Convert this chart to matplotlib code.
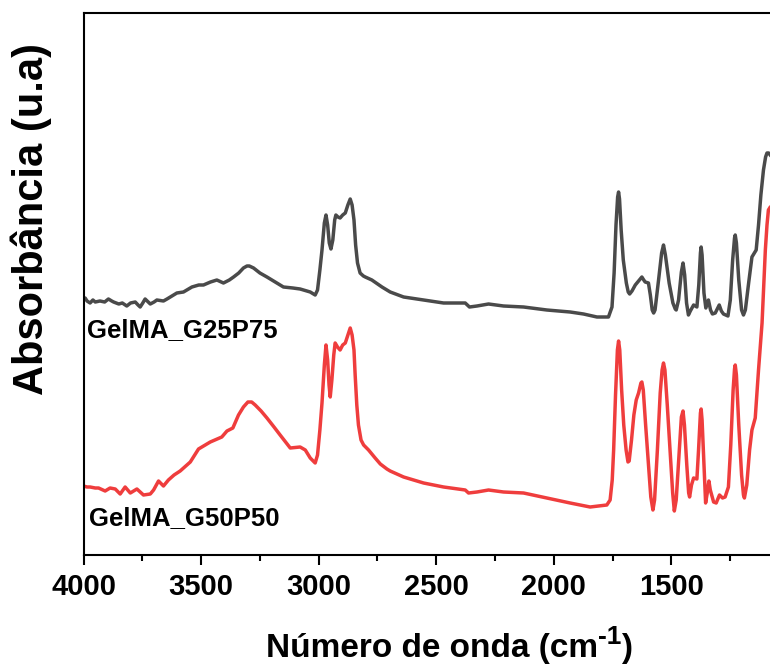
import matplotlib
matplotlib.use("Agg")
import matplotlib.pyplot as plt

# FTIR spectra (wavenumber in cm-1, absorbance in arbitrary units)
wn_g25p75 = [3993, 3985, 3972, 3960, 3950, 3930, 3910, 3894, 3880, 3872, 3850, 3835, 3816,
             3800, 3780, 3768, 3759, 3748, 3738, 3716, 3700, 3688, 3660, 3645,
             3603, 3575, 3539, 3510, 3490, 3460, 3433, 3405, 3380, 3362, 3340, 3320, 3305,
             3295, 3277, 3250, 3220, 3185, 3150, 3110, 3079, 3050,
             3036, 3015, 3005, 2995, 2986, 2976, 2969, 2962, 2955, 2948, 2940, 2932, 2927,
             2918, 2909, 2898, 2887, 2876, 2866, 2858, 2850, 2843, 2835, 2824, 2810, 2802,
             2774, 2731, 2696, 2639, 2554, 2469, 2377, 2359, 2327, 2278,
             2214, 2129, 2030, 1931, 1874, 1817, 1768, 1753, 1744, 1736, 1729, 1725, 1721,
             1714, 1705, 1692, 1684, 1678, 1668, 1654, 1640, 1626, 1618, 1612, 1598, 1590,
             1582, 1576, 1570, 1555, 1542, 1534, 1526, 1510, 1494, 1484, 1480, 1470, 1458,
             1451, 1444, 1436, 1428, 1420, 1406, 1392, 1384, 1377, 1374, 1370, 1362, 1354,
             1343, 1334, 1326, 1314, 1297, 1288, 1279, 1260, 1250, 1240, 1232, 1229, 1224,
             1214, 1202, 1194, 1186, 1172, 1158, 1140, 1130, 1120, 1109, 1100, 1094, 1087,
             1080, 1065]
ab_g25p75 = [2.57, 2.54, 2.52, 2.55, 2.53, 2.54, 2.53, 2.56, 2.54, 2.53, 2.51, 2.52, 2.49,
             2.52, 2.53, 2.50, 2.48, 2.52, 2.56, 2.51, 2.53, 2.55, 2.54, 2.56,
             2.62, 2.63, 2.68, 2.70, 2.70, 2.73, 2.75, 2.72, 2.75, 2.78, 2.82, 2.87, 2.89,
             2.89, 2.87, 2.82, 2.78, 2.73, 2.68, 2.67, 2.66, 2.64,
             2.63, 2.60, 2.65, 2.85, 3.05, 3.32, 3.40, 3.30, 3.12, 3.06, 3.15, 3.35, 3.40,
             3.38, 3.37, 3.40, 3.42, 3.50, 3.56, 3.50, 3.35, 3.10, 2.92, 2.82, 2.79, 2.78,
             2.75, 2.68, 2.63, 2.58, 2.55, 2.52, 2.52, 2.48, 2.49, 2.51,
             2.49, 2.48, 2.45, 2.43, 2.41, 2.38, 2.38, 2.48, 2.82, 3.30, 3.58, 3.63, 3.56,
             3.25, 2.95, 2.72, 2.63, 2.61, 2.64, 2.70, 2.74, 2.78, 2.75, 2.73, 2.72, 2.60,
             2.45, 2.42, 2.45, 2.75, 3.02, 3.10, 3.00, 2.72, 2.52, 2.46, 2.45, 2.55, 2.83,
             2.92, 2.80, 2.52, 2.40, 2.44, 2.50, 2.48, 2.70, 3.02, 3.08, 3.00, 2.62, 2.47,
             2.55, 2.45, 2.41, 2.42, 2.50, 2.44, 2.41, 2.39, 2.55, 2.95, 3.17, 3.20, 3.12,
             2.75, 2.45, 2.40, 2.45, 2.72, 2.98, 3.05, 3.30, 3.60, 3.85, 3.98, 4.02, 4.02,
             4.00, 3.95]

wn_g50p50 = [4000, 3985, 3972, 3950, 3936, 3908, 3887, 3865, 3844, 3823, 3801, 3773, 3745,
             3716, 3702, 3681, 3660, 3639, 3615, 3589, 3546, 3511, 3461, 3412, 3390, 3365,
             3341, 3320, 3301, 3285, 3270, 3245, 3220, 3190, 3164, 3121, 3079, 3057,
             3036, 3015, 3005, 2995, 2986, 2976, 2969, 2962, 2956, 2951, 2944, 2936, 2930,
             2920, 2909, 2898, 2887, 2876, 2866, 2858, 2850, 2845, 2838, 2831, 2820, 2809,
             2788, 2760, 2738, 2710, 2696, 2639, 2554, 2469, 2377, 2363, 2327, 2278, 2214,
             2129, 2030, 1931, 1846, 1775, 1761, 1752, 1746, 1738, 1730, 1725, 1720, 1712,
             1703, 1693, 1685, 1680, 1670, 1660, 1650, 1640, 1630, 1626, 1620, 1610, 1598,
             1588, 1579, 1572, 1560, 1548, 1540, 1534, 1528, 1518, 1505, 1495, 1488, 1480,
             1468, 1458, 1451, 1445, 1435, 1427, 1423, 1415, 1406, 1392, 1385, 1377, 1374,
             1370, 1362, 1355, 1348, 1341, 1335, 1321, 1310, 1296, 1283, 1272, 1258, 1248,
             1238, 1232, 1229, 1224, 1214, 1202, 1194, 1190, 1180, 1168, 1158, 1144, 1130,
             1115, 1101, 1094, 1088, 1080, 1065]
ab_g50p50 = [0.69, 0.68, 0.68, 0.67, 0.67, 0.64, 0.67, 0.66, 0.61, 0.68, 0.62, 0.66, 0.60,
             0.61, 0.65, 0.74, 0.69, 0.75, 0.80, 0.84, 0.93, 1.06, 1.13, 1.18, 1.24, 1.27,
             1.40, 1.48, 1.53, 1.53, 1.50, 1.44, 1.37, 1.28, 1.20, 1.07, 1.08, 1.05,
             0.97, 0.92, 1.00, 1.25, 1.52, 1.90, 2.10, 1.95, 1.70, 1.58, 1.75, 2.00, 2.12,
             2.08, 2.05, 2.10, 2.12, 2.20, 2.27, 2.20, 2.05, 1.80, 1.50, 1.30, 1.15, 1.10,
             1.05, 0.97, 0.91, 0.86, 0.84, 0.78, 0.72, 0.68, 0.65, 0.62, 0.63, 0.65, 0.63,
             0.62, 0.57, 0.52, 0.48, 0.50, 0.55, 0.75, 1.05, 1.60, 2.05, 2.14, 2.05, 1.65,
             1.30, 1.05, 0.93, 0.94, 1.15, 1.40, 1.55, 1.62, 1.72, 1.73, 1.65, 1.30, 0.90,
             0.58, 0.45, 0.55, 1.05, 1.62, 1.85, 1.92, 1.85, 1.50, 1.00, 0.62, 0.44, 0.55,
             1.00, 1.38, 1.44, 1.30, 0.90, 0.62, 0.58, 0.70, 0.77, 0.76, 1.05, 1.42, 1.46,
             1.35, 0.90, 0.52, 0.62, 0.74, 0.65, 0.53, 0.52, 0.60, 0.57, 0.58, 0.68, 1.10,
             1.65, 1.86, 1.90, 1.80, 1.30, 0.80, 0.60, 0.57, 0.70, 1.05, 1.25, 1.37, 1.85,
             2.32, 3.05, 3.30, 3.45, 3.48, 3.50]

series_labels = ["GelMA_G25P75", "GelMA_G50P50"]
series_colors = ["#4a4a4a", "#ef3d3d"]
x_ticks = [4000, 3500, 3000, 2500, 2000, 1500]
x_minor = [3750, 3250, 2750, 2250, 1750, 1250]

font = "Liberation Sans"

W, H = 770, 667
fig = plt.figure(figsize=(W / 100, H / 100), dpi=100)
left, right, top, bottom = 83.5, 776, 13, 555
ax = fig.add_axes([left / W, 1 - bottom / H, (right - left) / W, (bottom - top) / H])

for wn, ab, c in [(wn_g25p75, ab_g25p75, series_colors[0]),
                  (wn_g50p50, ab_g50p50, series_colors[1])]:
    ax.plot(wn, ab, color=c, lw=2.5, solid_joinstyle="round", solid_capstyle="round")

x_lo = 4000 - (right - left) * 500 / 117.6
ax.set_xlim(4000, x_lo)
ax.set_ylim(0, (bottom - top) / 100)

ax.set_xticks(x_ticks)
ax.set_xticks(x_minor, minor=True)
ax.set_xticklabels([str(t) for t in x_ticks], fontfamily=font, fontweight="bold", fontsize=21)
ax.tick_params(axis="x", which="major", direction="out", length=7, width=1.5, pad=6)
ax.tick_params(axis="x", which="minor", direction="out", length=4, width=1.5)
ax.set_yticks([])
for s in ax.spines.values():
    s.set_linewidth(1.5)

ax.text(3985, 2.25, series_labels[0], fontfamily=font, fontweight="bold",
        fontsize=18.5, ha="left", va="center")
ax.text(3975, 0.37, series_labels[1], fontfamily=font, fontweight="bold",
        fontsize=18.5, ha="left", va="center")

# x label assembled from pieces so the superscript keeps the bold sans face
renderer = fig.canvas.get_renderer()
base_y = 1 - 657 / H
kw = dict(fontfamily=font, fontweight="bold", va="baseline", ha="left")
t1 = fig.text(0, base_y, "Número de onda (cm", fontsize=24, **kw)
t2 = fig.text(0, base_y + 13 / H, "-1", fontsize=19, **kw)
t3 = fig.text(0, base_y, ")", fontsize=24, **kw)
w1 = t1.get_window_extent(renderer).width
w2 = t2.get_window_extent(renderer).width
w3 = t3.get_window_extent(renderer).width
x0 = 449 - (w1 + w2 + w3) / 2
t1.set_x(x0 / W)
t2.set_x((x0 + w1) / W)
t3.set_x((x0 + w1 + w2) / W)

fig.text(31 / W, 1 - 219 / H, "Absorbância (u.a)", fontfamily=font, fontweight="bold",
         fontsize=30, rotation=90, ha="center", va="center")

fig.savefig("out.png", dpi=100)
